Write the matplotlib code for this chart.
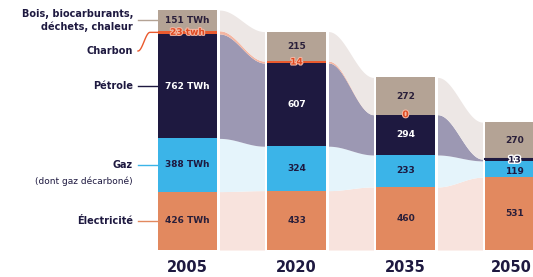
import numpy as np
import matplotlib.pyplot as plt
import matplotlib.patheffects as pe

# === Data (TWh) ===
years = ["2005", "2020", "2035", "2050"]
electricite = [426, 433, 460, 531]
gaz = [388, 324, 233, 119]
petrole = [762, 607, 294, 13]
charbon = [23, 14, 0, 0]
bois = [151, 215, 272, 270]

layers = [electricite, gaz, petrole, charbon, bois]
names = ["Électricité", "Gaz", "Pétrole", "Charbon", "Bois, biocarburants,\ndéchets, chaleur"]
bar_colors = ["#E2895F", "#3BB4E8", "#1E1940", "#EA5A2E", "#B4A395"]
band_colors = ["#F8E3DD", "#E5F4FB", "#9C98B3", "#F4B6A2", "#EDE7E5"]
value_colors = ["#2A1F3A", "#1E1940", "white", "#E04A22", "#2A1F3A"]

# === Layout (pixel based) ===
PX = 109.0            # distance between bar centres in px
X0 = 187.5            # centre of first bar in px
SCALE = 0.1371        # px per TWh
BASE = 250            # px row of zero
W = 59 / PX           # bar width
GAP = 2.5 / PX        # white gap between bar and band

fig = plt.figure(figsize=(5.33, 2.77), dpi=100)
ax = fig.add_axes([0, 0, 1, 1])
ax.set_xlim(-X0 / PX, (533 - X0) / PX)
ax.set_ylim(-(277 - BASE) / SCALE, BASE / SCALE)
ax.axis("off")

x = np.arange(len(years))
data = np.array(layers, dtype=float)
bottoms = np.vstack([np.zeros(len(years)), np.cumsum(data, axis=0)[:-1]])
tops = bottoms + data

# === Bands between bars ===
t = np.linspace(0, 1, 60)
s = (1 - np.cos(np.pi * t)) / 2
for i in range(len(years) - 1):
    xs = np.linspace(x[i] + W / 2 + GAP, x[i + 1] - W / 2 - GAP, len(t))
    for k in range(len(layers)):
        lo = bottoms[k, i] + (bottoms[k, i + 1] - bottoms[k, i]) * s
        hi = tops[k, i] + (tops[k, i + 1] - tops[k, i]) * s
        ax.fill_between(xs, lo, hi, color=band_colors[k], lw=0)

# === Bars ===
for k in range(len(layers)):
    ax.bar(x, data[k], bottom=bottoms[k], width=W, color=bar_colors[k], lw=0)
# 2050 petrole is tiny, draw a visible line
ax.plot([x[3] - W / 2, x[3] + W / 2], [tops[2, 3], tops[2, 3]], color=bar_colors[2], lw=1.5)

# === Value labels ===
outline = [pe.withStroke(linewidth=2, foreground="white")]
for i in range(len(years)):
    for k in range(len(layers)):
        v = layers[k][i]
        if k == 3 and i == 3:
            continue
        txt = f"{v} TWh" if i == 0 else str(v)
        if k == 3 and i == 0:
            txt = "23 twh"
        yc = (bottoms[k, i] + tops[k, i]) / 2
        fx = {}
        col = value_colors[k]
        if k == 3:
            fx = dict(path_effects=[pe.withStroke(linewidth=1.5, foreground="#F5B7A3")])
        if k == 2 and i == 3:
            col = "#1E1940"
            fx = dict(path_effects=outline)
        if k == 1 and i == 3:
            yc -= 15
        ax.text(x[i], yc, txt, ha="center", va="center", fontsize=6.5,
                fontweight="bold", color=col, **fx)

# === Year labels ===
for i, yr in enumerate(years):
    xp, ha = x[i], "center"
    if i == len(years) - 1:
        xp, ha = (532 - X0) / PX, "right"
    ax.text(xp, -(268 - BASE) / SCALE, yr, ha=ha, va="center",
            fontsize=10.5, fontweight="bold", color="#1E1940")

# === Left legend with leader lines ===
lab_x = (133 - X0) / PX
l0 = (138 - X0) / PX
l1 = x[0] - W / 2
leader_colors = ["#E2895F", "#3BB4E8", "#1E1940", "#EA5A2E", "#B4A395"]
for k in [0, 1, 2, 4]:
    yc = (bottoms[k, 0] + tops[k, 0]) / 2
    ax.plot([l0, l1], [yc, yc], color=leader_colors[k], lw=1)
    ax.text(lab_x, yc, names[k], ha="right", va="center", fontsize=7,
            fontweight="bold", color="#1E1940", linespacing=1.25)
ax.text(lab_x, (bottoms[1, 0] + tops[1, 0]) / 2 - 115, "(dont gaz décarboné)",
        ha="right", va="center", fontsize=6.5, color="#1E1940")

# charbon: label sits lower, curved leader up to the thin segment
y_lab = (BASE - 51) / SCALE
y_seg = (bottoms[3, 0] + tops[3, 0]) / 2
cx = np.linspace(l0, l1, 50)
u = np.clip((cx - l0) / ((150 - 138) / PX), 0, 1)
cy = y_lab + (y_seg - y_lab) * (1 - np.cos(np.pi * u)) / 2
ax.plot(cx, cy, color=leader_colors[3], lw=1)
ax.text(lab_x, y_lab, names[3], ha="right", va="center", fontsize=7,
        fontweight="bold", color="#1E1940")

plt.savefig("out.png", dpi=100)
